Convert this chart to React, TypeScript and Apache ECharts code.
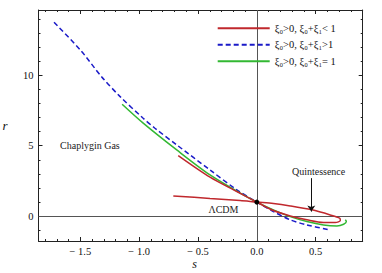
import React, { useEffect, useRef } from "react";
import * as echarts from "echarts";

// ---- data ----
const blueS = [-1.724, -1.5, -1.32, -1.164, -0.966, -0.866, -0.681, -0.398, -0.17, 0, 0.141, 0.284, 0.426, 0.619];
const blueR = [13.76, 11.79, 9.9, 8.5, 6.95, 6.24, 5.06, 3.28, 1.87, 1.0, 0.33, -0.26, -0.62, -0.97];

const greenS = [-1.145, -0.966, -0.681, -0.398, -0.114, 0, 0.141, 0.284, 0.426, 0.567, 0.681, 0.738, 0.761, 0.752];
const greenR = [7.94, 6.6, 4.7, 2.93, 1.51, 1.0, 0.45, -0.03, -0.38, -0.62, -0.69, -0.57, -0.38, -0.26];

const redS = [-0.668, -0.398, -0.17, 0, 0.141, 0.284, 0.426, 0.567, 0.667, 0.71, 0.704, 0.624, 0.468, 0.284, 0.141, 0, -0.142, -0.398, -0.71];
const redR = [4.3, 2.77, 1.75, 1.0, 0.4, 0.02, -0.26, -0.45, -0.45, -0.31, -0.14, 0.09, 0.45, 0.73, 0.9, 1.0, 1.11, 1.26, 1.44];

const seriesNames = ["ξ₀>0, ξ₀+ξ₁< 1", "ξ₀>0, ξ₀+ξ₁>1", "ξ₀>0, ξ₀+ξ₁= 1"];

const xRange = [-1.856, 0.9];
const yRange = [-1.76, 14.63];
const xMajor = [-1.5, -1, -0.5, 0, 0.5];
const xMinor = [-1.8, -1.7, -1.6, -1.5, -1.4, -1.3, -1.2, -1.1, -1.0, -0.9, -0.8, -0.7, -0.6, -0.5, -0.4, -0.3, -0.2, -0.1, 0, 0.1, 0.2, 0.3, 0.4, 0.5, 0.6, 0.7, 0.8, 0.9];
const yMajor = [0, 5, 10];
const yMinor = [-1, 0, 1, 2, 3, 4, 5, 6, 7, 8, 9, 10, 11, 12, 13, 14];

const point0 = [0, 1];
const annotations = [
  { name: "Chaplygin Gas", coord: [-1.419, 5.05] },
  { name: "ΛCDM", coord: [-0.284, 0.45] },
  { name: "Quintessence", coord: [0.525, 3.16] },
];
const arrowFrom = [0.463, 2.7];
const arrowTo = [0.463, 0.33];

const FONT = '"Liberation Serif", "Times New Roman", serif';
const AXIS_COLOR = "#222";

function zip(a: number[], b: number[]) {
  return a.map((v, i) => [v, b[i]]);
}

function fmtX(v: number) {
  if (Math.abs(v) < 1e-9) return "0.0";
  return v < 0 ? "\u2212 " + Math.abs(v).toFixed(1) : v.toFixed(1);
}

function makeX(position: "top" | "bottom", major: boolean, labels: boolean, extra: any = {}) {
  return {
    type: "value",
    position,
    min: xRange[0],
    max: xRange[1],
    axisLine: { show: major, onZero: false, lineStyle: { color: AXIS_COLOR, width: 1 } },
    axisTick: {
      show: true,
      inside: true,
      length: major ? 4 : 2,
      customValues: major ? xMajor : xMinor,
      lineStyle: { color: AXIS_COLOR, width: 1 },
    },
    axisLabel: {
      show: labels,
      customValues: xMajor,
      formatter: (v: number) => fmtX(v),
      fontFamily: FONT,
      fontSize: 10.5,
      lineHeight: 11,
      color: "#111",
      margin: 5,
    },
    splitLine: { show: false },
    minorTick: { show: false },
    ...extra,
  };
}

function makeY(position: "left" | "right", major: boolean, labels: boolean, extra: any = {}) {
  return {
    type: "value",
    position,
    min: yRange[0],
    max: yRange[1],
    axisLine: { show: major, onZero: false, lineStyle: { color: AXIS_COLOR, width: 1 } },
    axisTick: {
      show: true,
      inside: true,
      length: major ? 4 : 2,
      customValues: major ? yMajor : yMinor,
      lineStyle: { color: AXIS_COLOR, width: 1 },
    },
    axisLabel: {
      show: labels,
      customValues: yMajor,
      formatter: (v: number) => String(v),
      fontFamily: FONT,
      fontSize: 10.5,
      color: "#111",
      margin: 5,
    },
    splitLine: { show: false },
    minorTick: { show: false },
    ...extra,
  };
}

export default function App() {
  const ref = useRef<HTMLDivElement>(null);
  useEffect(() => {
    if (!ref.current) return;
    const chart = echarts.init(ref.current, undefined, { renderer: "svg" });
    const option: any = {
      animation: false,
      backgroundColor: "#fff",
      grid: { left: 38.5, right: 19.3, top: 10, bottom: 32, outerBoundsMode: "none", containLabel: false },
      legend: {
        orient: "vertical",
        left: 211.7,
        top: 17.7,
        itemWidth: 52,
        itemHeight: 14,
        itemGap: 5.3,
        data: seriesNames,
        itemStyle: { opacity: 0 },
        textStyle: { fontFamily: FONT, fontSize: 10.5, color: "#111" },
      },
      xAxis: [
        makeX("bottom", true, true, {
          name: "s",
          nameLocation: "middle",
          nameGap: 17,
          nameMoveOverlap: false,
          nameTextStyle: {
            fontFamily: FONT,
            fontStyle: "italic",
            fontSize: 12,
            lineHeight: 12,
            color: "#111",
            padding: [0, 12, 0, 0],
          },
        }),
        makeX("bottom", false, false),
        makeX("top", true, false),
        makeX("top", false, false),
      ],
      yAxis: [
        makeY("left", true, true, {
          name: "r",
          nameLocation: "middle",
          nameGap: 31,
          nameRotate: 0,
          nameMoveOverlap: false,
          nameTextStyle: { fontFamily: FONT, fontStyle: "italic", fontSize: 13, color: "#111" },
        }),
        makeY("left", false, false),
        makeY("right", true, false),
        makeY("right", false, false),
      ],
      series: [
        {
          name: seriesNames[0],
          type: "line",
          data: zip(redS, redR),
          symbol: "none",
          smooth: 0.3,
          z: 3,
          lineStyle: { color: "#c0282d", width: 1.5 },
          itemStyle: { color: "#c0282d" },
          markLine: {
            silent: true,
            symbol: ["none", "none"],
            label: { show: false },
            lineStyle: { color: "#555", width: 1, type: "solid" },
            data: [{ xAxis: 0 }, { yAxis: 0 }],
            z: 1,
          },
          markPoint: {
            symbol: "circle",
            symbolSize: 5,
            itemStyle: { color: "#000" },
            label: { show: false },
            data: [{ coord: point0 }],
          },
        },
        {
          name: seriesNames[1],
          type: "line",
          data: zip(blueS, blueR),
          symbol: "none",
          smooth: 0.3,
          z: 2,
          lineStyle: { color: "#1a1ac8", width: 1.5, type: [5, 3] },
          itemStyle: { color: "#1a1ac8" },
          markPoint: {
            symbol: "circle",
            symbolSize: 1,
            itemStyle: { color: "rgba(0,0,0,0)" },
            label: {
              show: true,
              position: "inside",
              formatter: "{b}",
              fontFamily: FONT,
              fontSize: 10,
              color: "#222",
            },
            data: annotations.map((a) => ({ name: a.name, coord: a.coord })),
          },
        },
        {
          name: seriesNames[2],
          type: "line",
          data: zip(greenS, greenR),
          symbol: "none",
          smooth: 0.3,
          z: 2,
          lineStyle: { color: "#33b833", width: 1.5 },
          itemStyle: { color: "#33b833" },
          markLine: {
            silent: true,
            label: { show: false },
            symbol: ["none", "arrow"],
            symbolSize: 6,
            lineStyle: { color: "#111", width: 1, type: "solid" },
            data: [[{ coord: arrowFrom }, { coord: arrowTo }]],
          },
        },
      ],
    };
    chart.setOption(option);
    return () => chart.dispose();
  }, []);
  return (
    <div
      ref={ref}
      style={{ position: "fixed", left: 0, top: 0, width: 382, height: 273, background: "#fff" }}
    />
  );
}
